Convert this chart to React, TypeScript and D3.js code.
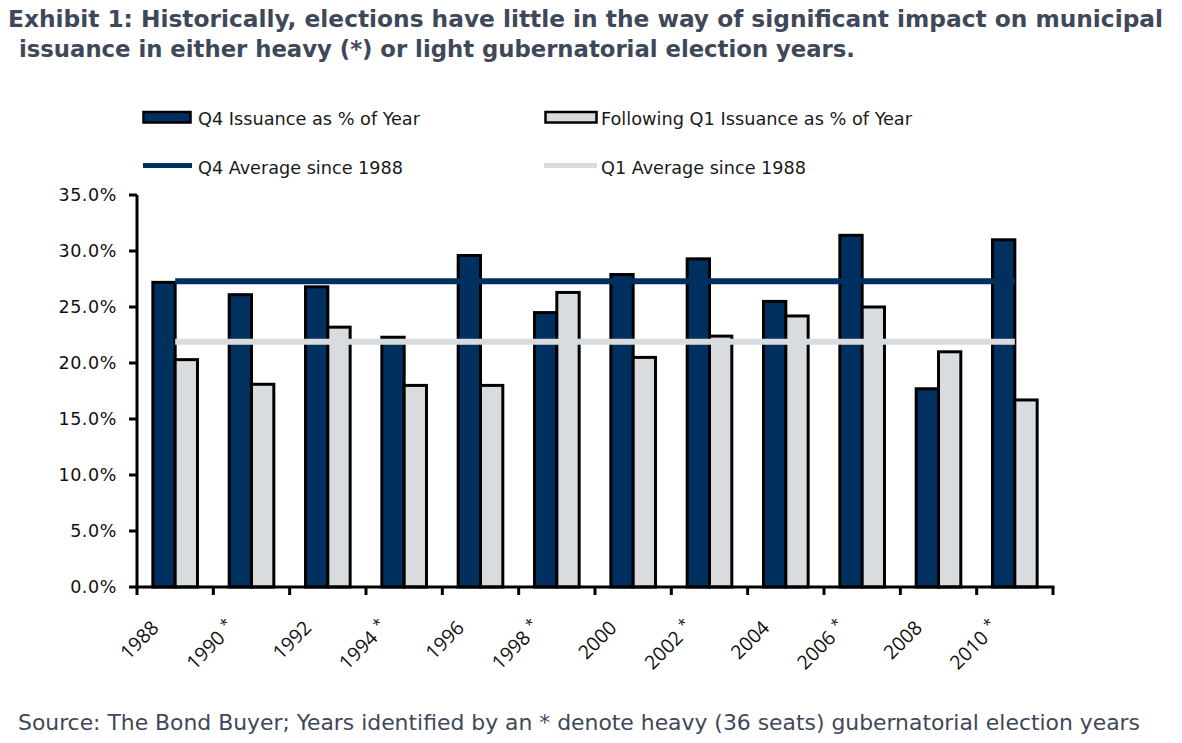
import React from "react";
import * as d3 from "d3";

const years = ["1988", "1990 *", "1992", "1994 *", "1996", "1998 *", "2000", "2002 *", "2004", "2006 *", "2008", "2010 *"];
const q4Values = [27.2, 26.1, 26.8, 22.3, 29.6, 24.5, 27.9, 29.3, 25.5, 31.4, 17.7, 31.0];
const q1Values = [20.3, 18.1, 23.2, 18.0, 18.0, 26.3, 20.5, 22.4, 24.2, 25.0, 21.0, 16.7];
const q4Average = 27.3;
const q1Average = 21.9;
const yTicks = [0, 5, 10, 15, 20, 25, 30, 35];
const seriesKeys = ["q4", "q1"];

const NAVY = "#00305F";
const LIGHT = "#D8DCDF";
const TITLE_COLOR = "#3E4859";

export default function App() {
  const W = 1182, H = 743;
  const left = 137, right = 1053, top = 195, bottom = 587;
  const x = d3.scaleBand<string>().domain(years).range([left, right]).padding(0);
  const inner = d3.scaleBand<string>().domain(seriesKeys).range([0, x.bandwidth()]).paddingInner(0).paddingOuter(0.71);
  const y = d3.scaleLinear().domain([0, 35]).range([bottom, top]);
  const fmt = (v: number) => v.toFixed(1) + "%";
  const boundaries = [...years.map((d) => x(d) as number), right];
  const lineX1 = (x(years[0]) as number) + x.bandwidth() / 2;
  const lineX2 = (x(years[years.length - 1]) as number) + x.bandwidth() / 2;

  const bars: React.ReactNode[] = [];
  years.forEach((yr, i) => {
    const vals = { q4: q4Values[i], q1: q1Values[i] } as Record<string, number>;
    seriesKeys.forEach((k) => {
      const bx = (x(yr) as number) + (inner(k) as number);
      const by = y(vals[k]);
      bars.push(
        <rect key={yr + k} x={bx} y={by} width={inner.bandwidth()} height={bottom - by}
          fill={k === "q4" ? NAVY : LIGHT} stroke="#000" strokeWidth={3} />
      );
    });
  });

  const legendFont = "'DejaVu Sans Condensed', 'DejaVu Sans', sans-serif";

  return (
    <svg width={W} height={H} style={{ position: "absolute", left: 0, top: 0, background: "#fff" }}>
      <rect x={0} y={0} width={W} height={H} fill="#fff" />
      {/* Title */}
      <g fontFamily={legendFont} fontWeight="bold" fontSize={23} fill={TITLE_COLOR}>
        <text x={8} y={27} textLength={1155} lengthAdjust="spacingAndGlyphs">
          Exhibit 1: Historically, elections have little in the way of significant impact on municipal
        </text>
        <text x={19} y={57} textLength={836} lengthAdjust="spacingAndGlyphs">
          issuance in either heavy (*) or light gubernatorial election years.
        </text>
      </g>

      {/* Legend */}
      <g fontFamily={legendFont} fontSize={17.5} fill="#1a1a1a">
        <rect x={143.5} y={112} width={47} height={10.5} fill={NAVY} stroke="#000" strokeWidth={2.5} />
        <text x={198} y={124.5} textLength={222} lengthAdjust="spacingAndGlyphs">Q4 Issuance as % of Year</text>
        <rect x={545.5} y={112} width={51} height={10.5} fill={LIGHT} stroke="#000" strokeWidth={2.5} />
        <text x={601} y={124.5} textLength={311} lengthAdjust="spacingAndGlyphs">Following Q1 Issuance as % of Year</text>
        <line x1={143} x2={192} y1={165.5} y2={165.5} stroke={NAVY} strokeWidth={5} />
        <text x={198} y={173.5} textLength={205} lengthAdjust="spacingAndGlyphs">Q4 Average since 1988</text>
        <line x1={544} x2={597} y1={165.5} y2={165.5} stroke={LIGHT} strokeWidth={5} />
        <text x={601} y={173.5} textLength={205} lengthAdjust="spacingAndGlyphs">Q1 Average since 1988</text>
      </g>

      {/* Bars */}
      <g>{bars}</g>

      {/* Average lines */}
      <line x1={lineX1} x2={lineX2} y1={y(q4Average)} y2={y(q4Average)} stroke={NAVY} strokeWidth={6} />
      <line x1={lineX1} x2={lineX2} y1={y(q1Average)} y2={y(q1Average)} stroke={LIGHT} strokeWidth={6} />

      {/* Y axis */}
      <g>
        <line x1={left} x2={left} y1={top} y2={bottom + 1.5} stroke="#000" strokeWidth={3} />
        {yTicks.map((t) => (
          <g key={t}>
            <line x1={left - 8} x2={left} y1={y(t)} y2={y(t)} stroke="#000" strokeWidth={3} />
            <text x={117} y={y(t)} dy="0.36em" textAnchor="end" fontFamily="'DejaVu Sans', sans-serif"
              fontSize={17.5} letterSpacing={0.6} fill="#111">{fmt(t)}</text>
          </g>
        ))}
      </g>

      {/* X axis */}
      <g>
        <line x1={left - 1.5} x2={right + 1.5} y1={bottom} y2={bottom} stroke="#000" strokeWidth={3} />
        {boundaries.map((bx, i) => (
          <line key={i} x1={bx} x2={bx} y1={bottom} y2={bottom + 8} stroke="#000" strokeWidth={3} />
        ))}
        {years.map((yr) => {
          const px = (x(yr) as number) + 23;
          const py = 629;
          const parts = yr.split(" ");
          return (
            <text key={yr} x={px} y={py} textAnchor="end" transform={`rotate(-45 ${px} ${py})`}
              fontFamily="'Open Sans', sans-serif" fontSize={19.5} fill="#111">
              {parts[0]}
              {parts[1] ? <tspan fontSize={15} dx={6} dy={-6}>{parts[1]}</tspan> : null}
            </text>
          );
        })}
      </g>

      {/* Footer */}
      <text x={18} y={730} fontFamily={legendFont} fontSize={20.5} fill={TITLE_COLOR}
        textLength={1122} lengthAdjust="spacingAndGlyphs">
        Source: The Bond Buyer; Years identified by an * denote heavy (36 seats) gubernatorial election years
      </text>
    </svg>
  );
}
